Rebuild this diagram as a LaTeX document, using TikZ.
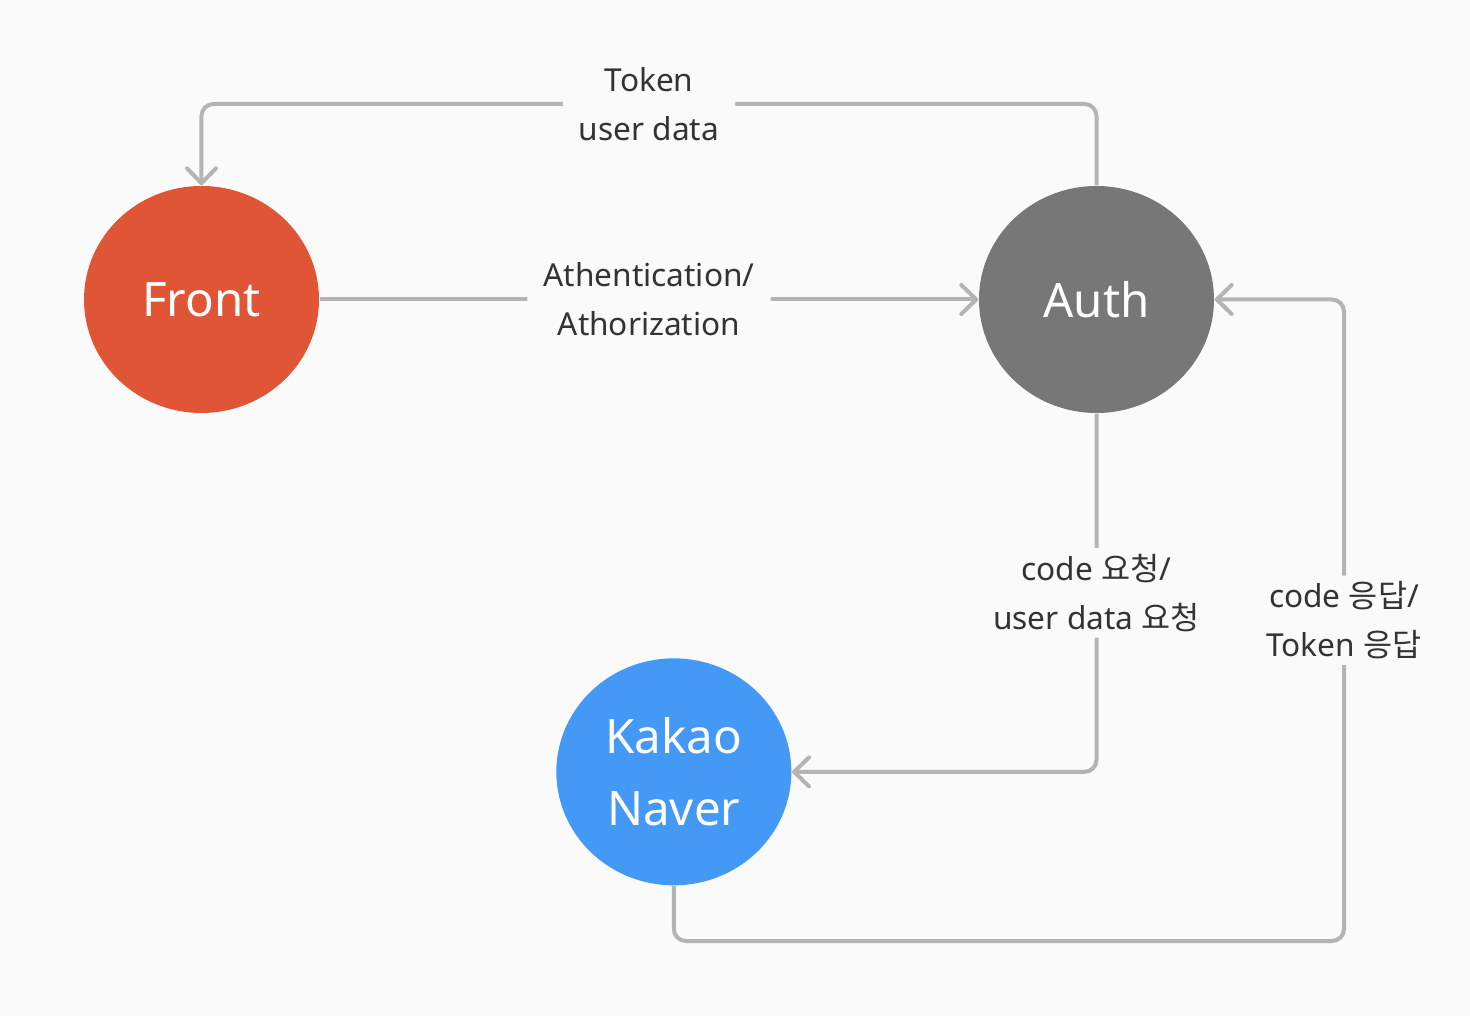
\documentclass[tikz,border=0pt]{standalone}
\usepackage{fontspec}
\setmainfont{Noto Sans}
\newfontfamily\kr{Noto Sans CJK KR}
\usetikzlibrary{arrows.meta,shapes.geometric}
\definecolor{bg}{HTML}{FAFAFA}
\definecolor{frontred}{HTML}{E05535}
\definecolor{authgray}{HTML}{777777}
\definecolor{socialblue}{HTML}{4499F7}
\definecolor{linegray}{HTML}{B4B4B4}
\definecolor{txt}{HTML}{333333}

\begin{document}
\begin{tikzpicture}[>={Straight Barb[length=0.3cm,width=0.58cm,round]},thick,
  main node/.style={ellipse,minimum width=4.7cm,minimum height=4.54cm,inner sep=0pt,text=white,align=center,font=\fontsize{27}{41}\selectfont},
  link/.style={draw=linegray,line width=0.08cm,rounded corners=0.24cm},
  lbl/.style={fill=bg,text=txt,align=center,inner xsep=0.32cm,inner ysep=0.12cm,font=\fontsize{18}{27.8}\selectfont}]
    \fill[bg] (-4.03,5.99) rectangle (25.37,-14.33);
    \useasboundingbox (-4.03,5.99) rectangle (25.37,-14.33);

    \node[main node,fill=frontred] (front) {Front};
    \node[main node,fill=authgray] (auth) [right of=front,node distance=17.9cm] {Auth};
    \node[main node,fill=socialblue] (social) [below right of=front,node distance=13.36cm] {Kakao\\Naver};

    \coordinate (topline) at (0,3.91);
    \coordinate (botline) at (0,-12.83);
    \coordinate (rightline) at (22.85,0);

    \draw[link,->] (auth.north) -- (auth.north |- topline) -- node[lbl] {Token\\user data} (front.north |- topline) -- (front.north);
    \draw[link,->] (front.east) -- node[lbl] {Athentication/\\Athorization} (auth.west);
    \draw[link,->] (auth.south) |- node[lbl,pos=0.25] {code {\kr 요청}/\\user data {\kr 요청}} (social.east);
    \draw[link,->] (social.south) -- (social.south |- botline) -- (rightline |- botline)
        -- node[lbl] {code {\kr 응답}/\\Token {\kr 응답}} (rightline |- auth.east) -- (auth.east);
\end{tikzpicture}
\end{document}
